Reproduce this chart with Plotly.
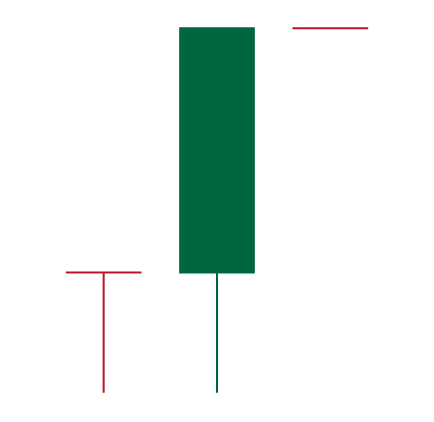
import plotly.graph_objects as go

x = [0, 1, 2]
open_ = [33, 33, 100]
high = [33, 100, 100]
low = [0, 0, 99.99]
close = [32.99, 100, 99.99]

GREEN = "#00663f"
RED = "#b5162b"

fig = go.Figure(go.Candlestick(
    x=x, open=open_, high=high, low=low, close=close,
    increasing=dict(line=dict(color=GREEN, width=2), fillcolor=GREEN),
    decreasing=dict(line=dict(color=RED, width=2), fillcolor=RED),
    showlegend=False,
))
fig.update_layout(
    width=434, height=422,
    margin=dict(l=47, r=47, t=21, b=22),
    paper_bgcolor="white", plot_bgcolor="white",
    xaxis=dict(range=[-0.5, 2.5], visible=False, rangeslider=dict(visible=False)),
    yaxis=dict(range=[-2, 102], visible=False),
    boxgap=0.35, boxgroupgap=0,
)
fig.write_html("out.html")
